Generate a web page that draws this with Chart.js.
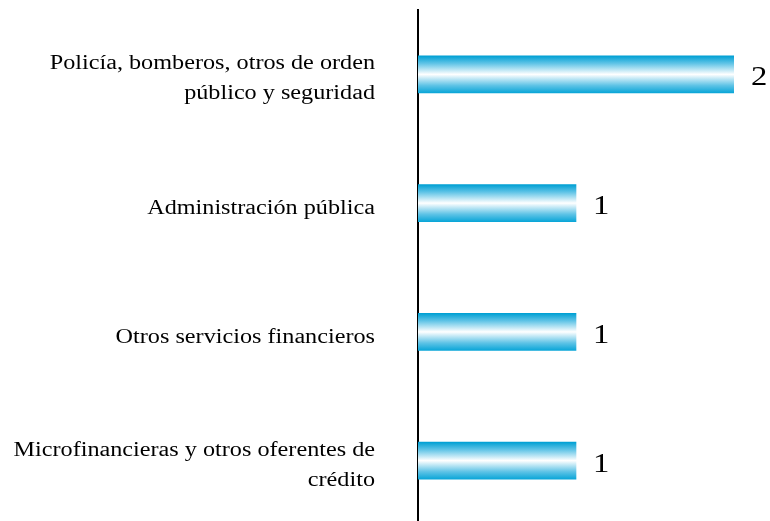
<!DOCTYPE html>
<html>
<head>
<meta charset="utf-8">
<script src="https://cdn.jsdelivr.net/npm/chart.js@4"></script>
<style>
html,body{margin:0;padding:0;background:#fff;overflow:hidden;}
#wrap{width:770px;height:525px;position:relative;}
</style>
</head>
<body>
<div id="wrap"><canvas id="c" width="770" height="525"></canvas></div>
<script>
const categories = [
  ["Policía, bomberos, otros de orden", "público y seguridad"],
  ["Administración pública"],
  ["Otros servicios financieros"],
  ["Microfinancieras y otros oferentes de", "crédito"]
];
const values = [2, 1, 1, 1];

const BAR_H = 37;
const SERIF = '"Liberation Serif", "Times New Roman", serif';
const HSCALE = 1.21;

function barGradient(ctx) {
  const chart = ctx.chart;
  const ys = chart.scales && chart.scales.y;
  if (!ys || ctx.dataIndex === undefined) return '#2BB0DC';
  const yc = ys.getPixelForValue(ctx.dataIndex);
  if (!isFinite(yc)) return '#2BB0DC';
  const top = yc - BAR_H / 2, bot = yc + BAR_H / 2;
  const g = chart.ctx.createLinearGradient(0, top, 0, bot);
  g.addColorStop(0, '#00A0D4');
  g.addColorStop(0.2, '#5EC3E6');
  g.addColorStop(0.5, '#FFFFFF');
  g.addColorStop(0.8, '#5EC3E6');
  g.addColorStop(1, '#0BA6D8');
  return g;
}

function drawStretched(c, text, x, y, align) {
  c.save();
  c.translate(x, y);
  c.scale(HSCALE, 1);
  c.textAlign = align;
  c.fillText(text, 0, 0);
  c.restore();
}

const textPlugin = {
  id: 'textPlugin',
  afterDraw(chart) {
    const c = chart.ctx;
    const ys = chart.scales.y;
    c.save();
    c.fillStyle = '#000';
    c.textBaseline = 'alphabetic';
    // category labels
    c.font = '20px ' + SERIF;
    const xr = ys.right - 43;
    ys.ticks.forEach((t, i) => {
      const lines = [].concat(ys.getLabelForValue(t.value));
      const yc = ys.getPixelForTick(i);
      const n = lines.length;
      const off = n === 1 ? 11 : 10;
      lines.forEach((ln, k) => {
        drawStretched(c, ln, xr, yc + off + (k - (n - 1) / 2) * 30, 'right');
      });
    });
    // value labels
    c.font = '27px ' + SERIF;
    const meta = chart.getDatasetMeta(0);
    meta.data.forEach((bar, i) => {
      drawStretched(c, String(values[i]), bar.x + 17, bar.y + 11, 'left');
    });
    c.restore();
  }
};

new Chart(document.getElementById('c'), {
  type: 'bar',
  data: {
    labels: categories,
    datasets: [{
      data: values,
      backgroundColor: barGradient,
      borderWidth: 0,
      barThickness: BAR_H
    }]
  },
  options: {
    indexAxis: 'y',
    responsive: false,
    animation: false,
    events: [],
    layout: { padding: { top: 10, right: 36, bottom: 0, left: 0 } },
    plugins: { legend: { display: false }, tooltip: { enabled: false } },
    scales: {
      x: { display: false, min: 0, max: 2 },
      y: {
        grid: { display: false, drawTicks: false },
        border: { display: true, color: '#000', width: 2 },
        ticks: { display: false },
        afterFit(scale) {
          scale.width = 418;
          scale.paddingTop = 0;
          scale.paddingBottom = 0;
        }
      }
    }
  },
  plugins: [textPlugin]
});
</script>
</body>
</html>
